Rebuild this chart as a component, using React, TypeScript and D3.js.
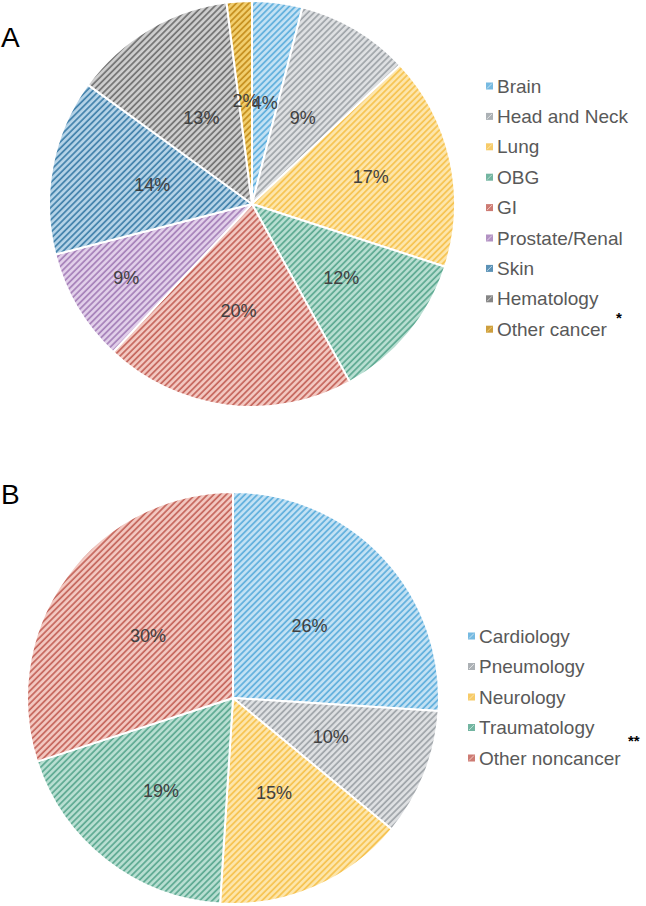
import React from "react";
import * as d3 from "d3";

// Panel A: cancer patients by tumour site (%)
const cancerSites = ["Brain", "Head and Neck", "Lung", "OBG", "GI", "Prostate/Renal", "Skin", "Hematology", "Other cancer"];
const cancerShares = [4, 9, 17, 12, 20, 9, 14, 13, 2];

// Panel B: noncancer patients by specialty (%)
const noncancerGroups = ["Cardiology", "Pneumology", "Neurology", "Traumatology", "Other noncancer"];
const noncancerShares = [26, 10, 15, 19, 30];

// Hatch styles: [background, stripe]
const cancerColors: [string, string][] = [
  ["#c4e2f4", "#5eaedc"],
  ["#dfe1e3", "#9ea3a8"],
  ["#fde6ac", "#f6c24e"],
  ["#b9dfd2", "#5ba890"],
  ["#f3c9c2", "#c4645a"],
  ["#e2d0ea", "#a47fb8"],
  ["#b6d4e8", "#3f7fa9"],
  ["#cfcfcf", "#707070"],
  ["#f2cf6e", "#c48d1c"],
];
const noncancerColors: [string, string][] = [
  ["#c4e2f4", "#5eaedc"],
  ["#dfe1e3", "#9ea3a8"],
  ["#fde6ac", "#f6c24e"],
  ["#b9dfd2", "#5ba890"],
  ["#f3c9c2", "#c4645a"],
];

// Distance of each percentage label from the centre, as a fraction of the radius
const cancerLabelRadius = [0.5, 0.49, 0.6, 0.57, 0.53, 0.72, 0.5, 0.49, 0.51];
const noncancerLabelRadius = [0.51, 0.51, 0.5, 0.57, 0.51];

const FONT = "'Liberation Sans', Arial, Helvetica, sans-serif";

function Hatch({ id, bg, fg }: { id: string; bg: string; fg: string }) {
  return (
    <pattern id={id} patternUnits="userSpaceOnUse" width={4.4} height={4.4} patternTransform="rotate(45)">
      <rect width={4.4} height={4.4} fill={bg} />
      <line x1={1} y1={0} x2={1} y2={4.4} stroke={fg} strokeWidth={1.7} />
    </pattern>
  );
}

type PieProps = {
  prefix: string;
  names: string[];
  values: number[];
  colors: [string, string][];
  labelRadius: number[];
  cx: number;
  cy: number;
  r: number;
  legendX: number;
  legendY: number;
  legendStep: number;
  note: string;
  noteX: number;
  noteDy: number;
};

function Pie(p: PieProps) {
  const arcs = d3.pie<number>().sort(null).value((d) => d)(p.values);
  const arc = d3.arc<d3.PieArcDatum<number>>().innerRadius(0).outerRadius(p.r);
  const last = p.names.length - 1;
  return (
    <g>
      <defs>
        {p.colors.map(([bg, fg], i) => (
          <Hatch key={i} id={`${p.prefix}-h${i}`} bg={bg} fg={fg} />
        ))}
      </defs>
      <g transform={`translate(${p.cx},${p.cy})`}>
        {arcs.map((a, i) => (
          <path key={i} d={arc(a) || ""} fill={`url(#${p.prefix}-h${i})`} stroke="#ffffff" strokeWidth={2} strokeLinejoin="round" />
        ))}
        {arcs.map((a, i) => {
          const mid = (a.startAngle + a.endAngle) / 2;
          const d = p.labelRadius[i] * p.r;
          return (
            <text
              key={i}
              x={Math.sin(mid) * d}
              y={-Math.cos(mid) * d}
              textAnchor="middle"
              dominantBaseline="central"
              fontFamily={FONT}
              fontSize={18}
              fill="#404040"
            >
              {`${p.values[i]}%`}
            </text>
          );
        })}
      </g>
      <g>
        {p.names.map((n, i) => {
          const y = p.legendY + i * p.legendStep;
          const [bg, fg] = p.colors[i];
          return (
            <g key={n}>
              <rect x={p.legendX} y={y - 3.5} width={7} height={7} fill={fg} opacity={0.85} />
              <line x1={p.legendX + 1} y1={y + 2.5} x2={p.legendX + 6} y2={y - 2.5} stroke={bg} strokeWidth={1} />
              <text x={p.legendX + 11} y={y} dominantBaseline="central" fontFamily={FONT} fontSize={19} fill="#595959">
                {n}
              </text>
            </g>
          );
        })}
        <text
          x={p.noteX}
          y={p.legendY + last * p.legendStep + p.noteDy}
          dominantBaseline="central"
          fontFamily={FONT}
          fontSize={15}
          fontWeight="bold"
          fill="#000000"
        >
          {p.note}
        </text>
      </g>
    </g>
  );
}

export default function App() {
  return (
    <svg width={646} height={906} style={{ position: "absolute", left: 0, top: 0, background: "#ffffff" }}>
      <rect width={646} height={906} fill="#ffffff" />
      <text x={1} y={47} fontFamily={FONT} fontSize={28} fill="#000000">A</text>
      <text x={1} y={504} fontFamily={FONT} fontSize={28} fill="#000000">B</text>
      <Pie
        prefix="a"
        names={cancerSites}
        values={cancerShares}
        colors={cancerColors}
        labelRadius={cancerLabelRadius}
        cx={252}
        cy={204}
        r={203}
        legendX={486}
        legendY={86}
        legendStep={30.4}
        note="*"
        noteX={616}
        noteDy={-12}
      />
      <Pie
        prefix="b"
        names={noncancerGroups}
        values={noncancerShares}
        colors={noncancerColors}
        labelRadius={noncancerLabelRadius}
        cx={233}
        cy={698}
        r={206}
        legendX={468}
        legendY={636}
        legendStep={30.5}
        note="**"
        noteX={628}
        noteDy={-18}
      />
    </svg>
  );
}
